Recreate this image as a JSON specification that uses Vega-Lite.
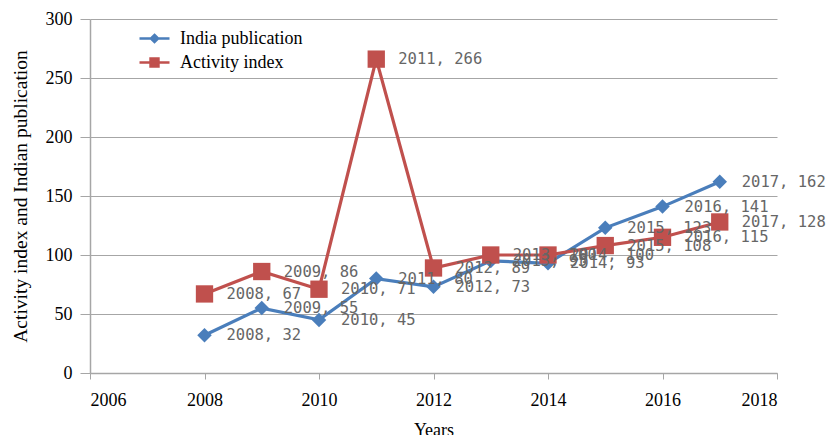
{
  "$schema": "https://vega.github.io/schema/vega-lite/v6.json",
  "width": 687,
  "height": 354,
  "autosize": {"type": "none"},
  "padding": {"left": 90, "top": 19, "right": 51, "bottom": 62},
  "background": "white",
  "config": {"view": {"stroke": null}, "font": "Liberation Serif"},
  "data": {
    "values": [
      {"year": 2008, "value": 32, "series": "India publication", "label": "2008, 32"},
      {"year": 2009, "value": 55, "series": "India publication", "label": "2009, 55"},
      {"year": 2010, "value": 45, "series": "India publication", "label": "2010, 45"},
      {"year": 2011, "value": 80, "series": "India publication", "label": "2011, 80"},
      {"year": 2012, "value": 73, "series": "India publication", "label": "2012, 73"},
      {"year": 2013, "value": 95, "series": "India publication", "label": "2013, 95"},
      {"year": 2014, "value": 93, "series": "India publication", "label": "2014, 93"},
      {"year": 2015, "value": 123, "series": "India publication", "label": "2015, 123"},
      {"year": 2016, "value": 141, "series": "India publication", "label": "2016, 141"},
      {"year": 2017, "value": 162, "series": "India publication", "label": "2017, 162"},
      {"year": 2008, "value": 67, "series": "Activity index", "label": "2008, 67"},
      {"year": 2009, "value": 86, "series": "Activity index", "label": "2009, 86"},
      {"year": 2010, "value": 71, "series": "Activity index", "label": "2010, 71"},
      {"year": 2011, "value": 266, "series": "Activity index", "label": "2011, 266"},
      {"year": 2012, "value": 89, "series": "Activity index", "label": "2012, 89"},
      {"year": 2013, "value": 100, "series": "Activity index", "label": "2013, 100"},
      {"year": 2014, "value": 100, "series": "Activity index", "label": "2014, 100"},
      {"year": 2015, "value": 108, "series": "Activity index", "label": "2015, 108"},
      {"year": 2016, "value": 115, "series": "Activity index", "label": "2016, 115"},
      {"year": 2017, "value": 128, "series": "Activity index", "label": "2017, 128"}
    ]
  },
  "encoding": {
    "x": {
      "field": "year",
      "type": "quantitative",
      "scale": {"domain": [2006, 2018], "nice": false, "zero": false},
      "axis": {
        "values": [2006, 2008, 2010, 2012, 2014, 2016, 2018],
        "format": "d",
        "grid": false,
        "title": "Years",
        "titleFont": "Liberation Serif",
        "titleFontSize": 18,
        "titleFontWeight": "normal",
        "titleColor": "#000000",
        "titlePadding": 12,
        "labelFont": "Liberation Serif",
        "labelFontSize": 18,
        "labelColor": "#000000",
        "labelPadding": 12,
        "tickSize": 6,
        "tickColor": "#a6a6a6",
        "domainColor": "#a6a6a6",
        "domainWidth": 1.5
      }
    },
    "y": {
      "field": "value",
      "type": "quantitative",
      "scale": {"domain": [0, 300], "nice": false},
      "axis": {
        "values": [0, 50, 100, 150, 200, 250, 300],
        "title": "Activity index and Indian publication",
        "titleFont": "Liberation Serif",
        "titleFontSize": 19.5,
        "titleFontWeight": "normal",
        "titleColor": "#000000",
        "titlePadding": 15,
        "labelFont": "Liberation Serif",
        "labelFontSize": 18,
        "labelColor": "#000000",
        "labelPadding": 8,
        "tickSize": 10,
        "tickColor": "#a6a6a6",
        "domainColor": "#a6a6a6",
        "domainWidth": 1.5,
        "grid": true,
        "gridColor": "#a6a6a6",
        "gridWidth": 1
      }
    },
    "color": {
      "field": "series",
      "type": "nominal",
      "scale": {"domain": ["India publication", "Activity index"], "range": ["#4A7EBB", "#C0504D"]},
      "legend": {
        "title": null,
        "orient": "none",
        "legendX": 48,
        "legendY": 3,
        "padding": 3,
        "fillColor": "white",
        "symbolSize": 576,
        "symbolType": "M-1.25,0L1.25,0M-0.3,-0.3L0.3,-0.3L0.3,0.3L-0.3,0.3Z",
        "rowPadding": 1,
        "labelOffset": 12,
        "labelFont": "Liberation Serif",
        "labelFontSize": 18,
        "labelColor": "#000000",
        "encode": {
          "symbols": {
            "update": {
              "shape": {"signal": "datum.value === 'India publication' ? 'M-1.25,0L1.25,0M0,-0.3L0.3,0L0,0.3L-0.3,0Z' : 'M-1.25,0L1.25,0M-0.33,-0.33L0.33,-0.33L0.33,0.33L-0.33,0.33Z'"},
              "fill": {"signal": "datum.value === 'India publication' ? '#4A7EBB' : '#C0504D'"},
              "stroke": {"signal": "datum.value === 'India publication' ? '#4A7EBB' : '#C0504D'"},
              "strokeWidth": {"value": 2.5},
              "opacity": {"value": 1}
            }
          }
        }
      }
    }
  },
  "layer": [
    {
      "mark": {"type": "line", "strokeWidth": 3.2}
    },
    {
      "mark": {"type": "point", "filled": true, "opacity": 1},
      "encoding": {
        "shape": {
          "condition": {"test": "datum.series === 'Activity index'", "value": "square"},
          "value": "diamond"
        },
        "size": {
          "condition": {"test": "datum.series === 'Activity index'", "value": 300},
          "value": 210
        }
      }
    },
    {
      "mark": {"type": "text", "align": "left", "baseline": "middle", "dx": 22, "font": "DejaVu Sans Mono", "fontSize": 15.5},
      "encoding": {
        "text": {"field": "label", "type": "nominal"},
        "color": {"value": "#666666"}
      }
    }
  ]
}
